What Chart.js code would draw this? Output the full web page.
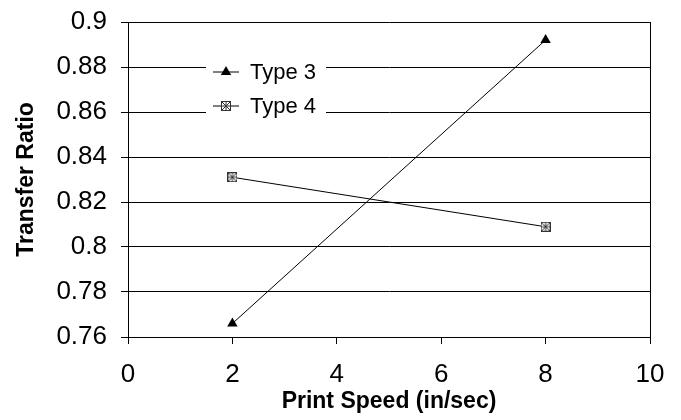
<!DOCTYPE html>
<html>
<head>
<meta charset="utf-8">
<script src="https://cdn.jsdelivr.net/npm/chart.js@4.4.0/dist/chart.umd.min.js"></script>
<style>
  html, body { margin: 0; padding: 0; background: #fff; }
  #wrap { width: 681px; height: 420px; }
</style>
</head>
<body>
<div id="wrap"><canvas id="chart" width="681" height="420"></canvas></div>
<script>
// values
var speeds = [2, 8];
var type3 = [0.766, 0.892];
var type4 = [0.831, 0.809];
var seriesNames = ["Type 3", "Type 4"];
var xTicks = [0, 2, 4, 6, 8, 10];
var yTicks = [0.76, 0.78, 0.8, 0.82, 0.84, 0.86, 0.88, 0.9];

// hatched square marker for Type 4
var hatch = document.createElement("canvas");
hatch.width = 10; hatch.height = 10;
(function () {
  var c = hatch.getContext("2d");
  c.fillStyle = "#fff";
  c.fillRect(0, 0, 10, 10);
  c.strokeStyle = "#333";
  c.lineWidth = 1;
  c.strokeRect(0.5, 0.5, 9, 9);
  c.beginPath();
  c.moveTo(1, 1); c.lineTo(9, 9);
  c.moveTo(9, 1); c.lineTo(1, 9);
  c.moveTo(5, 1); c.lineTo(5, 9);
  c.moveTo(1, 5); c.lineTo(9, 5);
  c.stroke();
})();

var pts3 = speeds.map((s, i) => ({ x: s, y: type3[i] }));
var pts4 = speeds.map((s, i) => ({ x: s, y: type4[i] }));

// legend sits inside the plot, top left, on a white patch
var insideLegend = {
  id: "insideLegend",
  afterDraw(chart) {
    var ctx = chart.ctx;
    ctx.save();
    ctx.fillStyle = "#fff";
    ctx.fillRect(206, 58, 120, 58);
    var rows = [72, 106];
    chart.data.datasets.forEach(function (ds, i) {
      var y = rows[i];
      ctx.strokeStyle = "#000";
      ctx.lineWidth = 1;
      ctx.beginPath();
      ctx.moveTo(213, y); ctx.lineTo(239, y);
      ctx.stroke();
      ctx.fillStyle = "#000";
      Chart.helpers.drawPoint(ctx, {
        pointStyle: ds.pointStyle, radius: ds.pointRadius, rotation: 0, borderWidth: 0
      }, 226, y);
      ctx.fillStyle = "#000";
      ctx.font = "22px 'Liberation Sans', Arial, sans-serif";
      ctx.textBaseline = "middle";
      ctx.textAlign = "left";
      ctx.fillText(ds.label, 250, y + 1);
    });
    ctx.restore();
  }
};

new Chart(document.getElementById("chart"), {
  type: "scatter",
  data: {
    datasets: [
      {
        label: seriesNames[0],
        data: pts3,
        showLine: true,
        borderColor: "#000",
        borderWidth: 1,
        backgroundColor: "#000",
        pointStyle: "triangle",
        pointRadius: 6,
        pointBorderWidth: 0
      },
      {
        label: seriesNames[1],
        data: pts4,
        showLine: true,
        borderColor: "#000",
        borderWidth: 1,
        backgroundColor: "#fff",
        pointStyle: hatch,
        pointRadius: 5
      }
    ]
  },
  options: {
    responsive: false,
    animation: false,
    layout: { padding: { left: 0, right: 31, top: 22, bottom: 0 } },
    plugins: {
      legend: { display: false },
      tooltip: { enabled: false }
    },
    scales: {
      x: {
        type: "linear",
        min: 0, max: 10,
        afterBuildTicks: function (s) { s.ticks = xTicks.map(v => ({ value: v })); },
        afterFit: function (s) { s.height = 83; },
        border: { color: "#000", width: 1 },
        grid: {
          drawOnChartArea: true,
          color: ctx => (ctx.tick && ctx.tick.value === 10) ? "#000" : "rgba(0,0,0,0)",
          tickColor: "#000",
          tickLength: 7,
          lineWidth: 1
        },
        ticks: {
          color: "#000",
          padding: 15,
          font: { family: "'Liberation Sans', Arial, sans-serif", size: 26 }
        },
        title: {
          display: true,
          text: "Print Speed (in/sec)",
          color: "#000",
          padding: { top: 4, bottom: 5 },
          font: { family: "'Liberation Sans', Arial, sans-serif", size: 23, weight: "bold" }
        }
      },
      y: {
        min: 0.76, max: 0.9,
        afterBuildTicks: function (s) { s.ticks = yTicks.map(v => ({ value: v })); },
        afterFit: function (s) { s.width = 128; s.paddingTop = 0; s.paddingBottom = 0; },
        border: { color: "#000", width: 1 },
        grid: {
          color: "#000",
          tickColor: "#000",
          tickLength: 7,
          lineWidth: 1
        },
        ticks: {
          color: "#000",
          padding: 14,
          callback: v => String(+v.toFixed(2)),
          font: { family: "'Liberation Sans', Arial, sans-serif", size: 26 }
        },
        title: {
          display: true,
          text: "Transfer Ratio",
          color: "#000",
          padding: { top: 13, bottom: 4 },
          font: { family: "'Liberation Sans', Arial, sans-serif", size: 23, weight: "bold" }
        }
      }
    }
  },
  plugins: [insideLegend]
});
</script>
</body>
</html>
